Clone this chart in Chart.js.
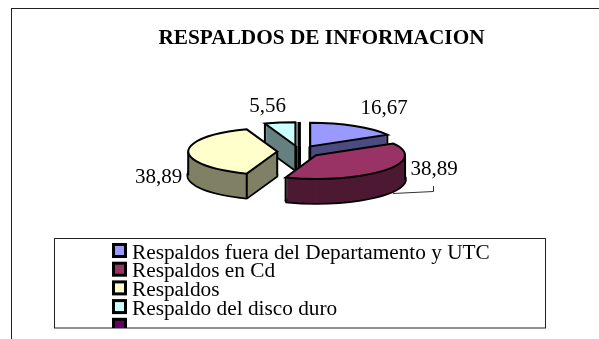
<!DOCTYPE html>
<html><head><meta charset="utf-8">
<style>html,body{margin:0;padding:0;background:#fff}canvas{display:block}</style>
<script src="https://cdn.jsdelivr.net/npm/chart.js@4"></script>
</head><body><canvas id="c" width="599" height="339"></canvas>
<script>
const titleText = 'RESPALDOS DE INFORMACION';
const categories = ['Respaldos fuera del Departamento y UTC','Respaldos en Cd','Respaldos','Respaldo del disco duro',''];
const values = [16.67, 38.89, 38.89, 5.56, 0];
const topColors = ['#9999ff','#993366','#ffffcc','#ccffff','#660066'];
const wallColors = ['#4c4c80','#4d1933','#808066','#668080','#330033'];
const paintOrder = [3,4,0,2,1];

const K = 0.265, DEPTH = 24, EXPLODE = 22, SHIFT_X = -22.3, CY = 151.5, SERIF = '"Liberation Serif"';
const labelAnchors = [[384,114],[434,175],[158.5,183],[267.5,112]];

function outline(ctx, a, cx, cy, dy){
  const mid = (a.startAngle + a.endAngle) / 2;
  const ox = cx + Math.cos(mid) * EXPLODE, oy = cy + Math.sin(mid) * EXPLODE * K + dy;
  ctx.beginPath();
  ctx.moveTo(ox, oy);
  ctx.ellipse(ox, oy, a.outerRadius, a.outerRadius * K, 0, a.startAngle, a.endAngle);
  ctx.closePath();
  return [ox, oy];
}
const pie3d = {
  id: 'pie3d',
  beforeDatasetsDraw(chart){
    const ctx = chart.ctx, arcs = chart.getDatasetMeta(0).data;
    ctx.save();
    for (const i of paintOrder){
      const a = arcs[i], cx = a.x + SHIFT_X;
      const sliver = a.endAngle - a.startAngle < 1e-6;
      ctx.lineJoin = 'bevel';
      ctx.strokeStyle = '#000'; ctx.lineWidth = 3.5;
      outline(ctx, a, cx, CY, DEPTH); ctx.stroke();
      ctx.fillStyle = wallColors[i];
      for (let d = DEPTH; d >= 0; d--){ outline(ctx, a, cx, CY, d); ctx.fill(); }
      const [ox, oy] = outline(ctx, a, cx, CY, 0);
      const corners = [[ox, oy]];
      const R = a.outerRadius;
      const angs = [a.startAngle, a.endAngle];
      for (const t of [0, Math.PI, 2*Math.PI, -Math.PI]) if (t > a.startAngle && t < a.endAngle) angs.push(t);
      for (const t of angs) corners.push([ox + R*Math.cos(t), oy + R*K*Math.sin(t)]);
      ctx.lineWidth = sliver ? 3 : 2; ctx.strokeStyle = '#000';
      ctx.beginPath();
      for (const [x,y] of corners){ ctx.moveTo(x,y); ctx.lineTo(x,y+DEPTH); }
      ctx.stroke();
      ctx.lineJoin = 'miter';
      outline(ctx, a, cx, CY, 0);
      ctx.fillStyle = topColors[i]; ctx.fill();
      ctx.stroke();
    }
    ctx.restore();
    return false;
  },
  afterDraw(chart){
    const ctx = chart.ctx;
    ctx.save();
    ctx.fillStyle = '#222';
    ctx.fillRect(11, 8, 588, 1);
    ctx.fillRect(11, 8, 1, 331);
    ctx.fillStyle = '#000';
    ctx.font = '21px ' + SERIF;
    ctx.textAlign = 'center'; ctx.textBaseline = 'alphabetic';
    values.forEach((v, i) => {
      if (!v) return;
      ctx.fillText(v.toFixed(2).replace('.', ','), labelAnchors[i][0], labelAnchors[i][1]);
    });
    ctx.strokeStyle = '#333'; ctx.lineWidth = 1;
    ctx.beginPath(); ctx.moveTo(393, 193.5); ctx.lineTo(433.5, 191.5); ctx.lineTo(433.5, 186); ctx.stroke();
    const L = 54.5, T = 238.5, W = 491, H = 89.5;
    ctx.strokeStyle = '#222'; ctx.lineWidth = 1;
    ctx.fillStyle = '#fff';
    ctx.fillRect(L, T, W, H);
    ctx.strokeRect(L, T, W, H);
    ctx.beginPath(); ctx.rect(L, T, W, H); ctx.clip();
    ctx.font = '21.3px ' + SERIF; ctx.textAlign = 'left';
    categories.forEach((name, i) => {
      const y = 243 + i * 18.7;
      ctx.fillStyle = '#000'; ctx.fillRect(112, y, 15, 15);
      ctx.fillStyle = topColors[i]; ctx.fillRect(115, y + 3, 9, 9);
      ctx.fillStyle = '#000'; ctx.fillText(name, 132, y + 15.5);
    });
    ctx.restore();
  }
};
new Chart(document.getElementById('c'), {
  type: 'pie',
  data: { labels: categories, datasets: [{ data: values, backgroundColor: topColors, borderWidth: 0, radius: 89 }] },
  plugins: [pie3d],
  options: {
    responsive: false, animation: false,
    layout: { padding: { left: 44 } },
    plugins: {
      legend: { display: false }, tooltip: { enabled: false },
      title: { display: true, text: titleText, color: '#000', align: 'center',
               font: { family: SERIF, size: 21.3, weight: 'bold' }, padding: { top: 26, bottom: 10 } }
    }
  }
});
</script></body></html>
